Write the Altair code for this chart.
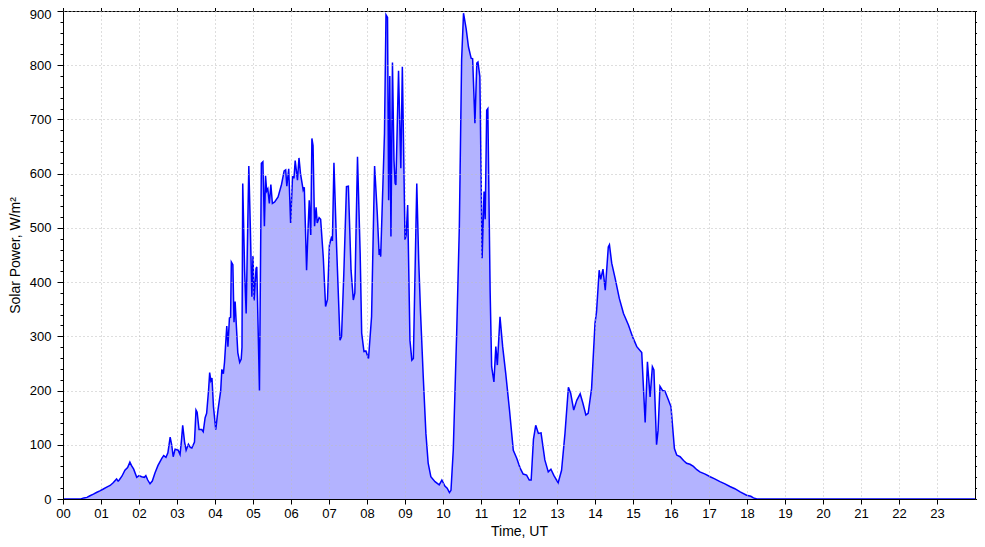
import altair as alt
import pandas as pd

hours = [0.0, 0.47, 0.55, 0.63, 0.71, 0.80, 0.88, 0.97, 1.05, 1.15, 1.24, 1.32, 1.41, 1.45, 1.48,
         1.55, 1.63, 1.70, 1.76, 1.80, 1.86, 1.94, 2.0, 2.07, 2.14, 2.18, 2.23, 2.29, 2.35, 2.42,
         2.50, 2.60, 2.65, 2.71, 2.76, 2.82, 2.86, 2.90, 2.95, 3.03, 3.08, 3.12, 3.15, 3.20, 3.24,
         3.30, 3.35, 3.39, 3.46, 3.50, 3.53, 3.58, 3.65, 3.69, 3.74, 3.78, 3.83, 3.86, 3.89, 3.92,
         3.96, 4.02, 4.08, 4.15, 4.18, 4.22, 4.25, 4.31, 4.34, 4.38, 4.41, 4.43, 4.47, 4.50, 4.53,
         4.56, 4.60, 4.65, 4.69, 4.71, 4.73, 4.78, 4.82, 4.89, 4.93, 4.97, 5.00, 5.03, 5.08, 5.10,
         5.17, 5.22, 5.26, 5.30, 5.33, 5.36, 5.39, 5.43, 5.47, 5.51, 5.57, 5.66, 5.75, 5.82, 5.86,
         5.89, 5.94, 5.99, 6.04, 6.08, 6.11, 6.17, 6.21, 6.25, 6.32, 6.35, 6.41, 6.45, 6.48, 6.52,
         6.55, 6.58, 6.62, 6.66, 6.69, 6.74, 6.78, 6.85, 6.91, 6.96, 7.01, 7.07, 7.09, 7.13, 7.20,
         7.29, 7.33, 7.39, 7.46, 7.51, 7.58, 7.64, 7.68, 7.75, 7.82, 7.86, 7.92, 7.97, 8.04, 8.12,
         8.20, 8.27, 8.32, 8.34, 8.36, 8.46, 8.50, 8.54, 8.57, 8.60, 8.63, 8.67, 8.71, 8.74, 8.76,
         8.83, 8.89, 8.93, 9.00, 9.03, 9.07, 9.13, 9.18, 9.22, 9.31, 9.36, 9.41, 9.48, 9.55, 9.61,
         9.68, 9.79, 9.90, 9.97, 10.05, 10.11, 10.17, 10.21, 10.27, 10.36, 10.43, 10.49, 10.54,
         10.61, 10.67, 10.74, 10.78, 10.84, 10.89, 10.92, 10.97, 11.03, 11.08, 11.11, 11.15, 11.18,
         11.24, 11.28, 11.34, 11.39, 11.43, 11.50, 11.57, 11.65, 11.75, 11.85, 11.94, 12.03, 12.11,
         12.20, 12.27, 12.32, 12.38, 12.44, 12.51, 12.58, 12.68, 12.77, 12.84, 12.92, 13.03, 13.12,
         13.21, 13.30, 13.36, 13.44, 13.52, 13.61, 13.68, 13.76, 13.82, 13.91, 14.00, 14.04, 14.11,
         14.15, 14.21, 14.27, 14.35, 14.38, 14.44, 14.53, 14.64, 14.75, 14.88, 14.99, 15.10, 15.23,
         15.32, 15.38, 15.45, 15.51, 15.55, 15.62, 15.66, 15.71, 15.78, 15.84, 15.93, 16.00, 16.09,
         16.15, 16.24, 16.33, 16.41, 16.50, 16.59, 16.68, 16.76, 16.90, 17.03, 17.15, 17.29, 17.42,
         17.55, 17.68, 17.82, 17.99, 18.10, 18.17, 18.26, 24.0]

power = [0, 0, 2, 3, 6, 9, 12, 15, 18, 22, 25, 30, 37, 33, 35,
         42, 53, 58, 68, 62, 55, 40, 43, 41, 40, 43, 35, 28, 33, 48,
         62, 75, 80, 77, 85, 114, 100, 78, 92, 90, 82, 110, 136, 105, 90,
         101, 95, 94, 105, 164, 160, 128, 128, 124, 150, 158, 200, 233, 218, 223,
         170, 128, 165, 200, 239, 231, 252, 319, 281, 334, 335, 437, 432, 326, 364,
         322, 270, 252, 258, 280, 582, 420, 342, 614, 500, 373, 448, 366, 425, 428,
         200, 619, 622, 503, 596, 568, 572, 545, 580, 545, 548, 557, 580, 605, 607,
         577, 609, 509, 594, 593, 624, 588, 629, 600, 570, 575, 422, 500, 551, 487,
         665, 652, 503, 538, 509, 519, 516, 445, 355, 368, 468, 484, 476, 620, 465,
         293, 300, 416, 576, 577, 422, 367, 380, 631, 453, 306, 272, 273, 259, 336,
         614, 527, 450, 461, 447, 674, 893, 888, 551, 780, 484, 805, 625, 582, 579,
         790, 610, 797, 478, 486, 542, 293, 256, 259, 582, 441, 342, 226, 121, 66,
         41, 32, 26, 35, 24, 20, 12, 16, 90, 306, 502, 810, 896,
         867, 834, 813, 812, 693, 804, 806, 779, 444, 567, 516, 717, 720,
         385, 244, 216, 281, 247, 336, 281, 232, 164, 90, 75, 57, 46,
         44, 35, 35, 110, 136, 121, 122, 72, 50, 55, 43, 30, 53,
         121, 206, 195, 164, 182, 194, 177, 155, 158, 204, 324, 345, 422,
         405, 424, 385, 465, 469, 435, 407, 370, 342, 321, 299, 281, 270,
         141, 253, 188, 244, 238, 100, 127, 208, 200, 199, 183, 170, 93,
         81, 78, 71, 66, 64, 60, 54, 50, 46, 41, 37, 32, 28,
         23, 19, 13, 7, 5, 2, 0, 0]

hour_ticks = list(range(0, 24))
y_major = list(range(0, 1000, 100))
y_minor = [v for v in range(0, 920, 20) if v % 100 != 0]

df = pd.DataFrame({"t": hours, "p": power})

FONT = "Liberation Sans"
xscale = alt.Scale(domain=[0, 24], nice=False, zero=False)
yscale = alt.Scale(domain=[0, 900], nice=False)
GRID = "#bdbdbd"

base = alt.Chart(df)

area = base.mark_area(color="#b3b3ff", opacity=1).encode(
    x=alt.X("t:Q", scale=xscale, title="Time, UT",
            axis=alt.Axis(orient="bottom", values=hour_ticks,
                          labelExpr="datum.value < 10 ? '0' + datum.value : '' + datum.value",
                          grid=True, gridColor=GRID, gridDash=[1, 3], gridWidth=1,
                          tickSize=5, tickColor="black", domainColor="black",
                          labelColor="black", labelFontSize=13, labelPadding=3,
                          titleFontSize=14, titleFontWeight="normal", titleColor="black",
                          titlePadding=4, labelFlush=False, zindex=1)),
    y=alt.Y("p:Q", scale=yscale, title="Solar Power, W/m²",
            axis=alt.Axis(orient="left", values=y_major,
                          grid=True, gridColor=GRID, gridDash=[1, 3], gridWidth=1,
                          tickSize=6, tickColor="black", domainColor="black",
                          labelColor="black", labelFontSize=13, labelPadding=6,
                          labelOffset=alt.condition("datum.value == 900", alt.value(3), alt.value(0)),
                          titleFontSize=14, titleFontWeight="normal", titleColor="black",
                          titlePadding=7, zindex=1)),
)

line = base.mark_line(color="#0000ff", strokeWidth=1.5).encode(
    x=alt.X("t:Q", scale=xscale,
            axis=alt.Axis(orient="top", values=hour_ticks, labels=False, title=None,
                          grid=False, tickSize=6, tickColor="black", domainColor="black")),
    y=alt.Y("p:Q", scale=yscale,
            axis=alt.Axis(orient="right", values=y_major, labels=False, title=None,
                          grid=False, tickSize=5, tickColor="black", domainColor="black")),
)

minor_left = base.mark_line(opacity=0).encode(
    x=alt.X("t:Q", scale=xscale, axis=None),
    y=alt.Y("p:Q", scale=yscale,
            axis=alt.Axis(orient="left", values=y_minor, labels=False, title=None,
                          grid=False, domain=False, tickSize=3, tickColor="black")),
)

minor_right = base.mark_line(opacity=0).encode(
    x=alt.X("t:Q", scale=xscale, axis=None),
    y=alt.Y("p:Q", scale=yscale,
            axis=alt.Axis(orient="right", values=y_minor, labels=False, title=None,
                          grid=False, domain=False, tickSize=3, tickColor="black")),
)

chart = alt.layer(area, line, minor_left, minor_right).resolve_axis(
    x="independent", y="independent"
).properties(
    width=912, height=488,
    autosize=alt.AutoSizeParams(type="none"),
    padding={"left": 55, "top": 3, "right": 2, "bottom": 40},
).configure_view(stroke=None).configure_axis(
    labelFont=FONT, titleFont=FONT
)

chart.save("out.html", embed_options={"renderer": "svg", "actions": False})
